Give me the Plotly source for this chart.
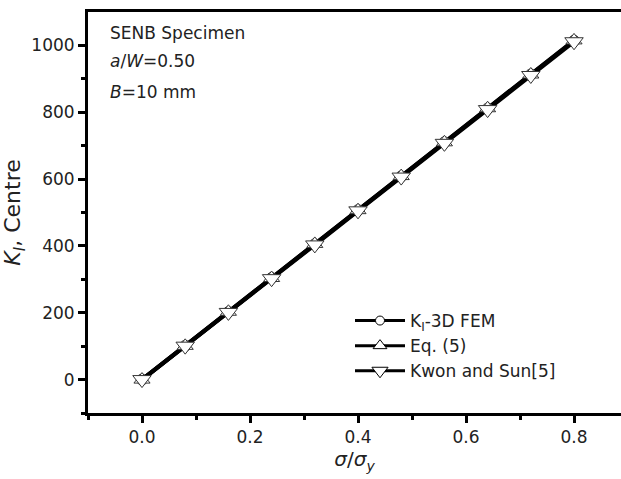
import plotly.graph_objects as go

sigma_ratio = [0.0, 0.08, 0.16, 0.24, 0.32, 0.40, 0.48, 0.56, 0.64, 0.72, 0.80]
k_fem = [0, 101, 202, 304, 405, 507, 608, 710, 811, 913, 1014]
k_eq5 = [0, 101, 203, 304, 406, 507, 609, 710, 812, 913, 1015]
k_kwon = [0, 100, 201, 302, 403, 505, 606, 707, 808, 910, 1011]
series_names = ["K<sub>I</sub>-3D FEM", "Eq. (5)", "Kwon and Sun[5]"]
series_values = [k_fem, k_eq5, k_kwon]
symbols = ["circle", "triangle-up", "triangle-down"]
sizes = [11, 14, 16]

FONT = "DejaVu Sans, Arial, sans-serif"
fig = go.Figure()

for vals in series_values:
    fig.add_trace(go.Scatter(x=sigma_ratio, y=vals, mode="lines",
                             line=dict(color="black", width=4), showlegend=False,
                             hoverinfo="skip"))
for vals, sym, sz in zip(series_values, symbols, sizes):
    fig.add_trace(go.Scatter(x=sigma_ratio, y=vals, mode="markers",
                             marker=dict(symbol=sym, size=sz, color="white",
                                         line=dict(color="#333333", width=1)),
                             showlegend=False))
for name, sym, sz in zip(series_names, symbols, sizes):
    fig.add_trace(go.Scatter(x=[None], y=[None], mode="lines+markers", name=name,
                             line=dict(color="black", width=3),
                             marker=dict(symbol=sym, size=sz - 2, color="white",
                                         line=dict(color="black", width=1))))

axis_common = dict(showline=True, linecolor="black", linewidth=3, ticks="outside",
                   tickwidth=3, ticklen=7, tickcolor="black", showgrid=False, zeroline=False,
                   tickfont=dict(family=FONT, size=17, color="#222222"))

fig.update_xaxes(range=[-0.1, 0.887], tickvals=[0.0, 0.2, 0.4, 0.6, 0.8],
                 ticktext=["0.0", "0.2", "0.4", "0.6", "0.8"], mirror=True,
                 minor=dict(tickvals=[-0.1, 0.1, 0.3, 0.5, 0.7], ticklen=4, tickwidth=3, tickcolor="black"),
                 title=dict(text="<i>σ</i>/<i>σ<sub>y</sub></i>", font=dict(family=FONT, size=20, color="#222222"), standoff=4),
                 **axis_common)
fig.update_yaxes(range=[-100, 1100], tickvals=[0, 200, 400, 600, 800, 1000],
                 minor=dict(tickvals=[-100, 100, 300, 500, 700, 900], ticklen=4, tickwidth=3, tickcolor="black"),
                 title=dict(text="<i>K<sub>I</sub></i>, Centre", font=dict(family=FONT, size=22, color="#222222"), standoff=8),
                 **axis_common)

for txt, ypx in [("SENB Specimen", 33), ("<i>a</i>/<i>W</i>=0.50", 61), ("<i>B</i>=10 mm", 92)]:
    fig.add_annotation(text=txt, xref="paper", yref="paper", x=(108 - 88) / (621 - 88),
                       y=(413 - ypx) / 401, xanchor="left", yanchor="middle", showarrow=False,
                       font=dict(family=FONT, size=17, color="#222222"))

fig.update_layout(width=621, height=479, margin=dict(l=88, r=0, t=12, b=66),
                  paper_bgcolor="white", plot_bgcolor="white",
                  legend=dict(x=(350 - 88) / 533, y=(413 - 303) / 401, xanchor="left", yanchor="top",
                              bgcolor="rgba(0,0,0,0)", itemwidth=50, tracegroupgap=0,
                              font=dict(family=FONT, size=17, color="#222222")))

fig.write_html("out.html")
